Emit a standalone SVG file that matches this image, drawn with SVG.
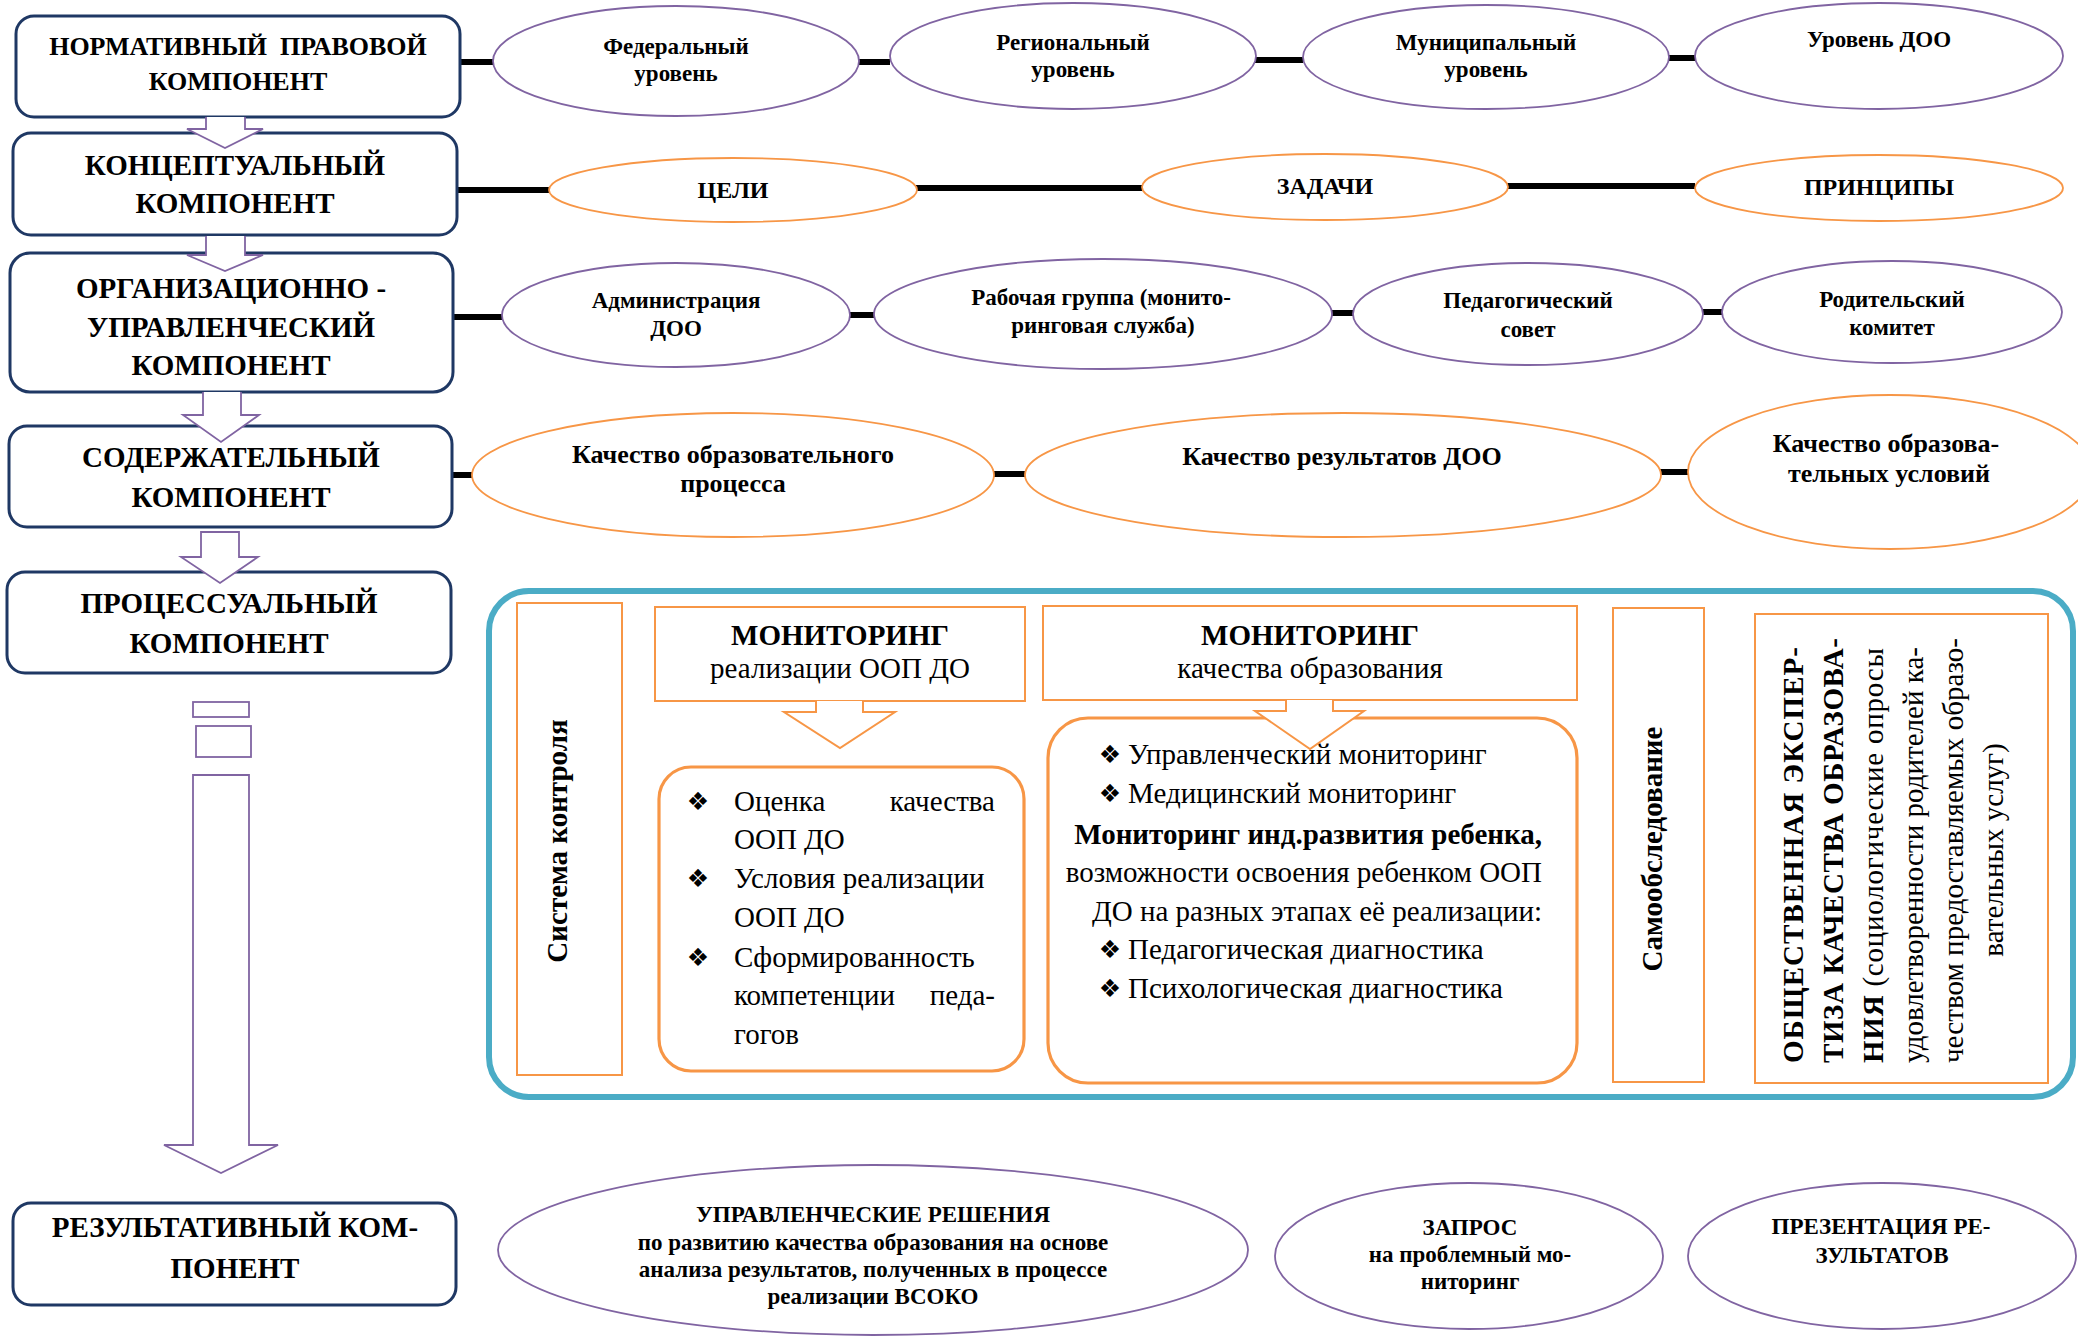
<svg xmlns="http://www.w3.org/2000/svg" width="2078" height="1336" viewBox="0 0 2078 1336">
<style>
text{font-family:"Liberation Serif","Times New Roman",serif;fill:#000}
.b{font-weight:bold}
.box{fill:#fff;stroke:#1F3864;stroke-width:3}
.pe{fill:#fff;stroke:#8064A2;stroke-width:1.8}
.oe{fill:#fff;stroke:#F79646;stroke-width:1.8}
.orect{fill:#fff;stroke:#F79646;stroke-width:2}
.olist{fill:#fff;stroke:#F79646;stroke-width:3.2}
.link{stroke:#000;stroke-width:6;fill:none}
.parr{fill:#fff;stroke:#8064A2;stroke-width:1.8}
.oarr{fill:#fff;stroke:#F79646;stroke-width:2}
.t29{font-size:29px}
.t26{font-size:26px}
.t23{font-size:23px}
.t24{font-size:24px}
.bul{font-family:"DejaVu Sans",sans-serif;font-size:25px}
</style>

<g id="connectors">
<line class="link" x1="460" y1="62" x2="493" y2="62"/>
<line class="link" x1="858" y1="62" x2="890" y2="62"/>
<line class="link" x1="1255" y1="60" x2="1303" y2="60"/>
<line class="link" x1="1668" y1="58" x2="1695" y2="58"/>
<line class="link" x1="457" y1="190" x2="549" y2="190"/>
<line class="link" x1="916" y1="188" x2="1142" y2="188"/>
<line class="link" x1="1507" y1="186" x2="1695" y2="186"/>
<line class="link" x1="453" y1="317" x2="502" y2="317"/>
<line class="link" x1="849" y1="315" x2="874" y2="315"/>
<line class="link" x1="1331" y1="313" x2="1354" y2="313"/>
<line class="link" x1="1702" y1="312" x2="1722" y2="312"/>
<line class="link" x1="452" y1="475" x2="472" y2="475"/>
<line class="link" x1="993" y1="474" x2="1025" y2="474"/>
<line class="link" x1="1660" y1="472" x2="1688" y2="472"/>
</g>

<g id="box-normative">
<rect class="box" x="16" y="16" width="444" height="101" rx="18"/>
<text class="b t26" x="238" y="55" text-anchor="middle" xml:space="preserve">НОРМАТИВНЫЙ  ПРАВОВОЙ</text>
<text class="b t26" x="238" y="90" text-anchor="middle">КОМПОНЕНТ</text>
</g>
<g id="box-conceptual">
<rect class="box" x="13" y="133" width="444" height="102" rx="18"/>
<text class="b t29" x="235" y="175" text-anchor="middle">КОНЦЕПТУАЛЬНЫЙ</text>
<text class="b t29" x="235" y="213" text-anchor="middle">КОМПОНЕНТ</text>
</g>
<g id="box-organizational">
<rect class="box" x="10" y="253" width="443" height="139" rx="20"/>
<text class="b t29" x="231" y="298" text-anchor="middle">ОРГАНИЗАЦИОННО -</text>
<text class="b t29" x="231" y="337" text-anchor="middle">УПРАВЛЕНЧЕСКИЙ</text>
<text class="b t29" x="231" y="375" text-anchor="middle">КОМПОНЕНТ</text>
</g>
<g id="box-content">
<rect class="box" x="9" y="426" width="443" height="101" rx="18"/>
<text class="b t29" x="231" y="467" text-anchor="middle">СОДЕРЖАТЕЛЬНЫЙ</text>
<text class="b t29" x="231" y="507" text-anchor="middle">КОМПОНЕНТ</text>
</g>
<g id="box-procedural">
<rect class="box" x="7" y="572" width="444" height="101" rx="18"/>
<text class="b t29" x="229" y="613" text-anchor="middle">ПРОЦЕССУАЛЬНЫЙ</text>
<text class="b t29" x="229" y="653" text-anchor="middle">КОМПОНЕНТ</text>
</g>
<g id="box-result">
<rect class="box" x="13" y="1203" width="443" height="102" rx="18"/>
<text class="b t29" x="235" y="1237" text-anchor="middle">РЕЗУЛЬТАТИВНЫЙ КОМ-</text>
<text class="b t29" x="235" y="1278" text-anchor="middle">ПОНЕНТ</text>
</g>

<g id="e-federal">
<ellipse class="pe" cx="676" cy="61" rx="183" ry="55"/>
<text class="b t23" x="676" y="54" text-anchor="middle">Федеральный</text>
<text class="b t23" x="676" y="81" text-anchor="middle">уровень</text>
</g>
<g id="e-regional">
<ellipse class="pe" cx="1073" cy="56" rx="183" ry="53"/>
<text class="b t23" x="1073" y="50" text-anchor="middle">Региональный</text>
<text class="b t23" x="1073" y="77" text-anchor="middle">уровень</text>
</g>
<g id="e-municipal">
<ellipse class="pe" cx="1486" cy="57" rx="183" ry="52"/>
<text class="b t23" x="1486" y="50" text-anchor="middle">Муниципальный</text>
<text class="b t23" x="1486" y="77" text-anchor="middle">уровень</text>
</g>
<g id="e-doo-level">
<ellipse class="pe" cx="1879" cy="56" rx="184" ry="53"/>
<text class="b t23" x="1879" y="47" text-anchor="middle">Уровень ДОО</text>
</g>

<g id="e-goals">
<ellipse class="oe" cx="733" cy="190" rx="184" ry="32"/>
<text class="b t24" x="733" y="198" text-anchor="middle">ЦЕЛИ</text>
</g>
<g id="e-tasks">
<ellipse class="oe" cx="1325" cy="187" rx="183" ry="33"/>
<text class="b t24" x="1325" y="194" text-anchor="middle">ЗАДАЧИ</text>
</g>
<g id="e-principles">
<ellipse class="oe" cx="1879" cy="188" rx="184" ry="33"/>
<text class="b t24" x="1879" y="195" text-anchor="middle">ПРИНЦИПЫ</text>
</g>

<g id="e-admin">
<ellipse class="pe" cx="676" cy="315" rx="174" ry="52"/>
<text class="b t23" x="676" y="308" text-anchor="middle">Администрация</text>
<text class="b t23" x="676" y="336" text-anchor="middle">ДОО</text>
</g>
<g id="e-workgroup">
<ellipse class="pe" cx="1103" cy="314" rx="229" ry="55"/>
<text class="b t23" x="1101" y="305" text-anchor="middle">Рабочая группа (монито-</text>
<text class="b t23" x="1103" y="333" text-anchor="middle">ринговая служба)</text>
</g>
<g id="e-pedcouncil">
<ellipse class="pe" cx="1528" cy="314" rx="175" ry="51"/>
<text class="b t23" x="1528" y="308" text-anchor="middle">Педагогический</text>
<text class="b t23" x="1528" y="337" text-anchor="middle">совет</text>
</g>
<g id="e-parents">
<ellipse class="pe" cx="1892" cy="312" rx="170" ry="51"/>
<text class="b t23" x="1892" y="307" text-anchor="middle">Родительский</text>
<text class="b t23" x="1892" y="335" text-anchor="middle">комитет</text>
</g>

<g id="e-process-quality">
<ellipse class="oe" cx="733" cy="475" rx="261" ry="62"/>
<text class="b t26" x="733" y="463" text-anchor="middle">Качество образовательного</text>
<text class="b t26" x="733" y="492" text-anchor="middle">процесса</text>
</g>
<g id="e-result-quality">
<ellipse class="oe" cx="1343" cy="475" rx="318" ry="62"/>
<text class="b t26" x="1342" y="465" text-anchor="middle">Качество результатов ДОО</text>
</g>
<g id="e-conditions-quality">
<ellipse class="oe" cx="1890" cy="472" rx="202" ry="77"/>
<text class="b t26" x="1886" y="452" text-anchor="middle">Качество образова-</text>
<text class="b t26" x="1889" y="482" text-anchor="middle">тельных условий</text>
</g>

<g id="procedural-frame">
<rect x="489" y="591" width="1584" height="506" rx="40" fill="none" stroke="#4BACC6" stroke-width="6"/>
</g>

<g id="control-system">
<rect class="orect" x="517" y="603" width="105" height="472"/>
<text class="b t29" transform="translate(567,841) rotate(-90)" text-anchor="middle">Система контроля</text>
</g>

<g id="monitoring-oop">
<rect class="orect" x="655" y="607" width="370" height="94"/>
<text class="b t29" x="840" y="645" text-anchor="middle">МОНИТОРИНГ</text>
<text class="t29" x="840" y="678" text-anchor="middle">реализации ООП ДО</text>
</g>
<g id="list-oop">
<rect class="olist" x="659" y="767" width="365" height="304" rx="32"/>
<text class="bul" x="698" y="810" text-anchor="middle">❖</text>
<text class="t29" x="734" y="811">Оценка</text>
<text class="t29" x="995" y="811" text-anchor="end">качества</text>
<text class="t29" x="734" y="849">ООП ДО</text>
<text class="bul" x="698" y="887" text-anchor="middle">❖</text>
<text class="t29" x="734" y="888">Условия реализации</text>
<text class="t29" x="734" y="927">ООП ДО</text>
<text class="bul" x="698" y="966" text-anchor="middle">❖</text>
<text class="t29" x="734" y="967">Сформированность</text>
<text class="t29" x="734" y="1005">компетенции</text>
<text class="t29" x="995" y="1005" text-anchor="end">педа-</text>
<text class="t29" x="734" y="1044">гогов</text>
</g>

<g id="monitoring-quality">
<rect class="orect" x="1043" y="606" width="534" height="94"/>
<text class="b t29" x="1310" y="645" text-anchor="middle">МОНИТОРИНГ</text>
<text class="t29" x="1310" y="678" text-anchor="middle">качества образования</text>
</g>
<g id="list-quality">
<rect class="olist" x="1048" y="718" width="529" height="365" rx="40"/>
<text class="bul" x="1110" y="763" text-anchor="middle">❖</text>
<text class="t29" x="1128" y="764">Управленческий мониторинг</text>
<text class="bul" x="1110" y="802" text-anchor="middle">❖</text>
<text class="t29" x="1128" y="803">Медицинский мониторинг</text>
<text class="b t29" x="1542" y="844" text-anchor="end">Мониторинг инд.развития ребенка,</text>
<text class="t29" x="1542" y="882" text-anchor="end">возможности освоения ребенком ООП</text>
<text class="t29" x="1542" y="921" text-anchor="end">ДО на разных этапах её реализации:</text>
<text class="bul" x="1110" y="958" text-anchor="middle">❖</text>
<text class="t29" x="1128" y="959">Педагогическая диагностика</text>
<text class="bul" x="1110" y="997" text-anchor="middle">❖</text>
<text class="t29" x="1128" y="998">Психологическая диагностика</text>
</g>

<g id="self-examination">
<rect class="orect" x="1613" y="608" width="91" height="474"/>
<text class="b t29" transform="translate(1662,849) rotate(-90)" text-anchor="middle">Самообследование</text>
</g>

<g id="public-expertise">
<rect class="orect" x="1755" y="614" width="293" height="469"/>
<text class="b t29" transform="translate(1803,1063) rotate(-90)" textLength="416" lengthAdjust="spacing">ОБЩЕСТВЕННАЯ ЭКСПЕР-</text>
<text class="b t29" transform="translate(1843,1063) rotate(-90)" textLength="425" lengthAdjust="spacing">ТИЗА КАЧЕСТВА ОБРАЗОВА-</text>
<text class="t29" transform="translate(1883,1063) rotate(-90)" textLength="415" lengthAdjust="spacing"><tspan class="b">НИЯ</tspan> (социологические опросы</text>
<text class="t29" transform="translate(1923,1063) rotate(-90)" textLength="416" lengthAdjust="spacing">удовлетворенности родителей ка-</text>
<text class="t29" transform="translate(1963,1063) rotate(-90)" textLength="425" lengthAdjust="spacing">чеством предоставляемых образо-</text>
<text class="t29" transform="translate(2003,850) rotate(-90)" text-anchor="middle">вательных услуг)</text>
</g>

<g id="e-decisions">
<ellipse class="pe" cx="873" cy="1250" rx="375" ry="85"/>
<text class="b t23" x="873" y="1222" text-anchor="middle">УПРАВЛЕНЧЕСКИЕ РЕШЕНИЯ</text>
<text class="b t23" x="873" y="1250" text-anchor="middle">по развитию качества образования на основе</text>
<text class="b t23" x="873" y="1277" text-anchor="middle">анализа результатов, полученных в процессе</text>
<text class="b t23" x="873" y="1304" text-anchor="middle">реализации ВСОКО</text>
</g>
<g id="e-request">
<ellipse class="pe" cx="1469" cy="1256" rx="194" ry="73"/>
<text class="b t23" x="1470" y="1235" text-anchor="middle">ЗАПРОС</text>
<text class="b t23" x="1470" y="1262" text-anchor="middle">на проблемный мо-</text>
<text class="b t23" x="1470" y="1289" text-anchor="middle">ниторинг</text>
</g>
<g id="e-presentation">
<ellipse class="pe" cx="1882" cy="1256" rx="194" ry="73"/>
<text class="b t23" x="1881" y="1234" text-anchor="middle">ПРЕЗЕНТАЦИЯ РЕ-</text>
<text class="b t23" x="1882" y="1263" text-anchor="middle">ЗУЛЬТАТОВ</text>
</g>

<g id="arrows">
<path class="parr" d="M206,117 V129 H187 L225,148 L263,129 H245 V117"/>
<path class="parr" d="M206,236 V255 H187 L225,271 L263,255 H245 V236"/>
<path class="parr" d="M203,392 V415 H183 L221,442 L259,415 H241 V392"/>
<path class="parr" d="M201,532 V557 H181 L220,583 L258,557 H239 V532 Z"/>
<rect class="parr" x="193" y="702" width="56" height="15"/>
<rect class="parr" x="196" y="726" width="55" height="31"/>
<path class="parr" d="M193,775 V1145 H164 L221,1173 L278,1145 H249 V775 Z"/>
<path class="oarr" d="M816,701 V712 H784 L840,748 L895,712 H863 V701"/>
<path class="oarr" d="M1286,700 V711 H1255 L1310,749 L1364,711 H1333 V700"/>
</g>
</svg>
